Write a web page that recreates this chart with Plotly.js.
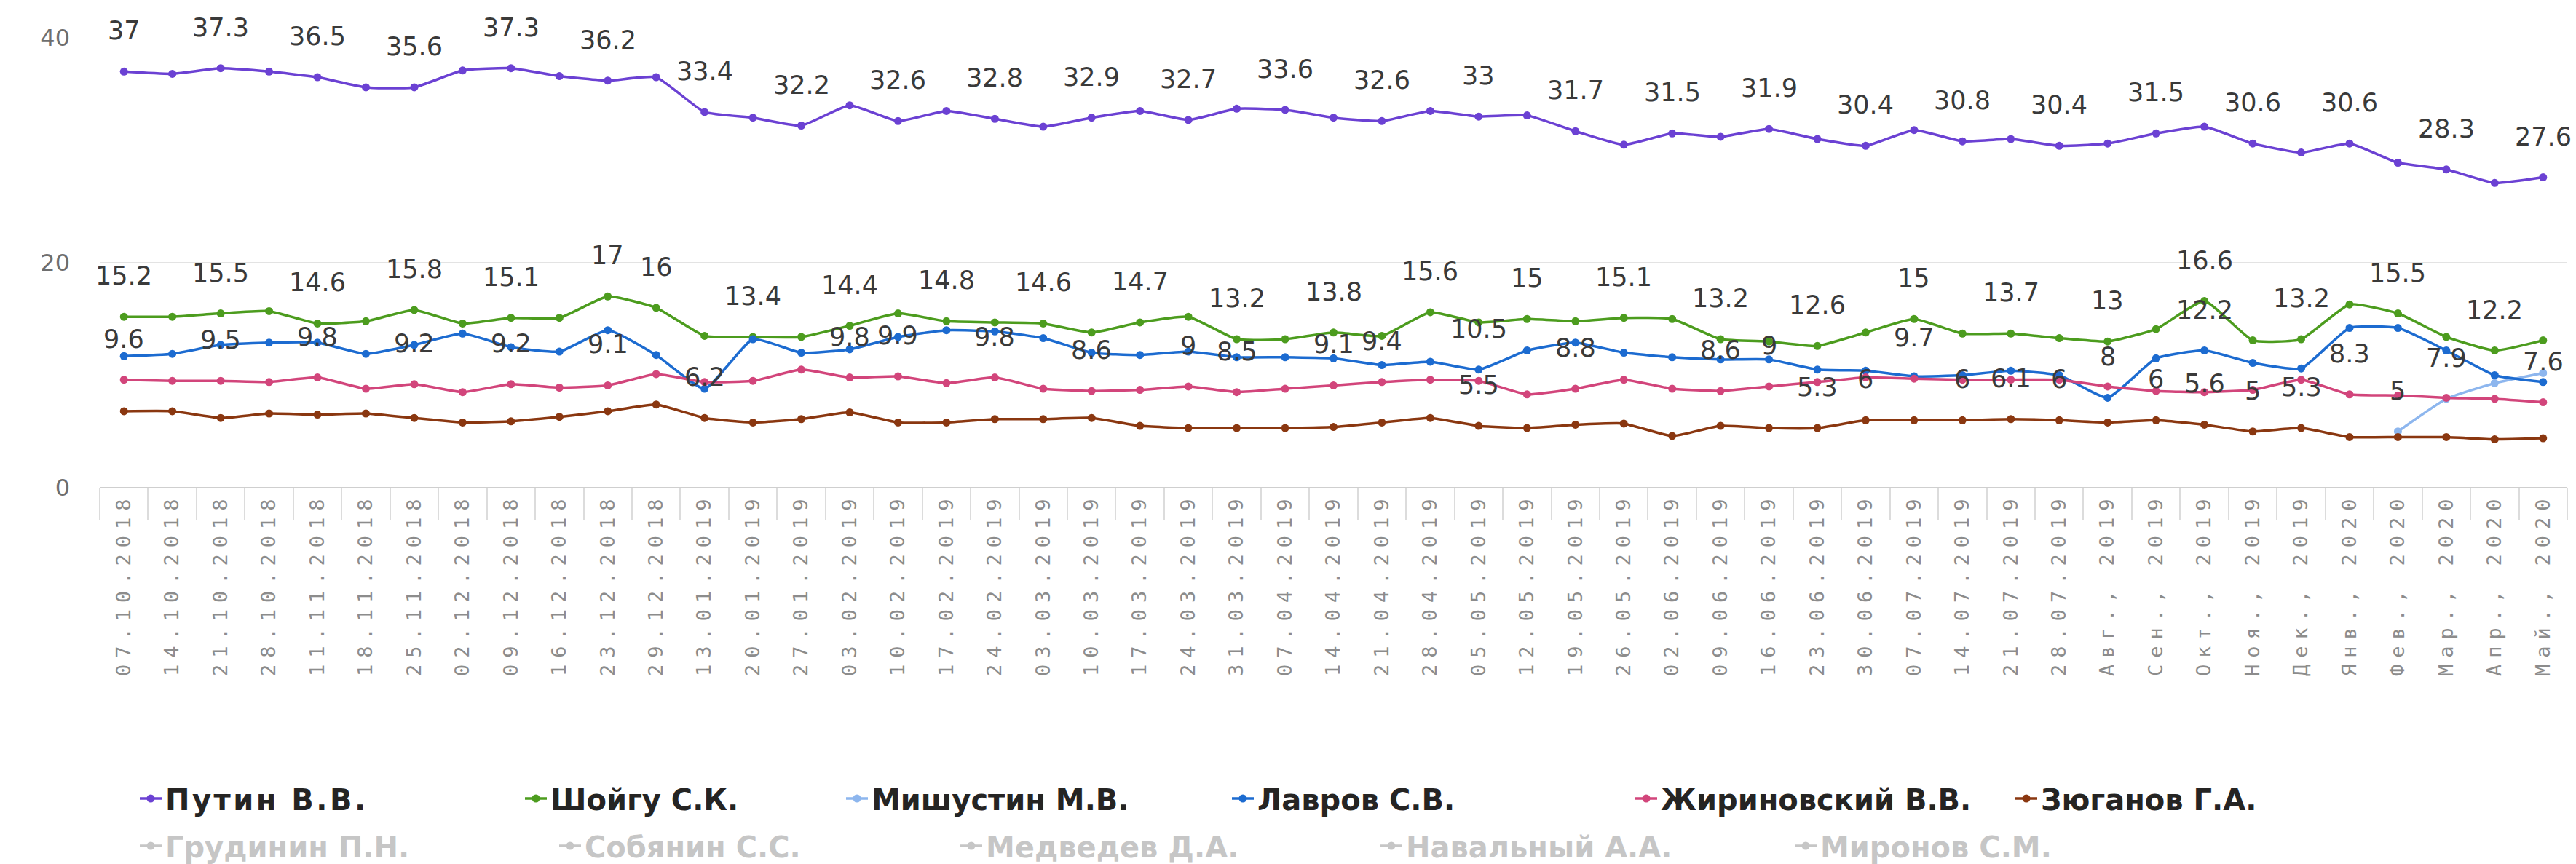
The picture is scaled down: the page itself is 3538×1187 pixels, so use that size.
<!DOCTYPE html>
<html>
<head>
<meta charset="utf-8">
<script src="https://cdn.plot.ly/plotly-3.0.1.min.js"></script>
<style>
html,body{margin:0;padding:0;background:#ffffff;}
#chart{width:3538px;height:1187px;}
.xtick text{letter-spacing:9px;}
.legendtext{letter-spacing:3.5px;}
</style>
</head>
<body>
<div id="chart"></div>
<script>
// ---------- DATA ----------
const categories = ['07.10.2018','14.10.2018','21.10.2018','28.10.2018','11.11.2018','18.11.2018','25.11.2018','02.12.2018','09.12.2018','16.12.2018','23.12.2018','29.12.2018','13.01.2019','20.01.2019','27.01.2019','03.02.2019','10.02.2019','17.02.2019','24.02.2019','03.03.2019','10.03.2019','17.03.2019','24.03.2019','31.03.2019','07.04.2019','14.04.2019','21.04.2019','28.04.2019','05.05.2019','12.05.2019','19.05.2019','26.05.2019','02.06.2019','09.06.2019','16.06.2019','23.06.2019','30.06.2019','07.07.2019','14.07.2019','21.07.2019','28.07.2019','Авг., 2019','Сен., 2019','Окт., 2019','Ноя., 2019','Дек., 2019','Янв., 2020','Фев., 2020','Мар., 2020','Апр., 2020','Май., 2020'];

const putin = [37, 36.8, 37.3, 37.0, 36.5, 35.6, 35.6, 37.1, 37.3, 36.6, 36.2, 36.5, 33.4, 32.9, 32.2, 34.0, 32.6, 33.5, 32.8, 32.1, 32.9, 33.5, 32.7, 33.7, 33.6, 32.9, 32.6, 33.5, 33, 33.1, 31.7, 30.5, 31.5, 31.2, 31.9, 31.0, 30.4, 31.8, 30.8, 31.0, 30.4, 30.6, 31.5, 32.1, 30.6, 29.8, 30.6, 28.9, 28.3, 27.1, 27.6];
const shoigu = [15.2, 15.2, 15.5, 15.7, 14.6, 14.8, 15.8, 14.6, 15.1, 15.1, 17, 16, 13.5, 13.4, 13.4, 14.4, 15.5, 14.8, 14.7, 14.6, 13.8, 14.7, 15.2, 13.2, 13.2, 13.8, 13.5, 15.6, 14.7, 15, 14.8, 15.1, 15.0, 13.2, 13.0, 12.6, 13.8, 15, 13.7, 13.7, 13.3, 13, 14.1, 16.6, 13.1, 13.2, 16.3, 15.5, 13.4, 12.2, 13.1];
const mishustinDates = ['Фев., 2020','Мар., 2020','Апр., 2020','Май., 2020'];
const mishustin = [5, 7.9, 9.3, 10.2];
const lavrov = [11.7, 11.9, 12.7, 12.9, 12.9, 11.9, 12.7, 13.7, 12.5, 12.1, 14.0, 11.8, 8.8, 13.2, 12.0, 12.3, 13.4, 14.0, 13.9, 13.3, 12.0, 11.8, 12.1, 11.6, 11.6, 11.5, 10.9, 11.2, 10.5, 12.2, 12.9, 12.0, 11.6, 11.4, 11.4, 10.5, 10.4, 9.9, 10.0, 10.4, 10.0, 8, 11.5, 12.2, 11.1, 10.6, 14.2, 14.2, 12.2, 10.0, 9.4];
const zhirinovsky = [9.6, 9.5, 9.5, 9.4, 9.8, 8.8, 9.2, 8.5, 9.2, 8.9, 9.1, 10.1, 9.4, 9.5, 10.5, 9.8, 9.9, 9.3, 9.8, 8.8, 8.6, 8.7, 9, 8.5, 8.8, 9.1, 9.4, 9.6, 9.5, 8.3, 8.8, 9.6, 8.8, 8.6, 9, 9.4, 9.8, 9.7, 9.6, 9.6, 9.6, 9.0, 8.6, 8.5, 8.7, 9.6, 8.3, 8.2, 8.0, 7.9, 7.6];
const zyuganov = [6.8, 6.8, 6.2, 6.6, 6.5, 6.6, 6.2, 5.8, 5.9, 6.3, 6.8, 7.4, 6.2, 5.8, 6.1, 6.7, 5.8, 5.8, 6.1, 6.1, 6.2, 5.5, 5.3, 5.3, 5.3, 5.4, 5.8, 6.2, 5.5, 5.3, 5.6, 5.7, 4.6, 5.5, 5.3, 5.3, 6, 6.0, 6, 6.1, 6, 5.8, 6, 5.6, 5, 5.3, 4.5, 4.5, 4.5, 4.3, 4.4];
// hidden (legend-only) series: switched off in the picture, no values shown
const hiddenDates = ['07.10.2018'];
const grudinin = [null];
const sobyanin = [null];
const medvedev = [null];
const navalny = [null];
const mironov = [null];

const seriesNames = ['Путин В.В.','Шойгу С.К.','Мишустин М.В.','Лавров С.В.','Жириновский В.В.','Зюганов Г.А.'];
const hiddenNames = ['Грудинин П.Н.','Собянин С.С.','Медведев Д.А.','Навальный А.А.','Миронов С.М.'];

// which points carry a visible data label (label density as in the picture)
const putinLabelIdx = [0,2,4,6,8,10,12,14,16,18,20,22,24,26,28,30,32,34,36,38,40,42,44,46,48,50];
const shoiguLabelIdx = [0,2,4,6,8,10,11,13,15,17,19,21,23,25,27,29,31,33,35,37,39,41,43,45,47,49];
const zhirLabelIdx = [0,2,4,6,8,10,15,16,18,20,22,23,25,26,30,33,34,37,46,50];
const zyugLabelIdx = [12,28,35,36,38,39,40,42,43,44,45];
const lavrovLabelIdx = [28,41,43];
const mishLabelIdx = [0,1];

// ---------- STYLE ----------
const colors = ['#6B41D3','#4C9C1E','#8DB6EE','#1C6BD0','#D2457B','#8A3710'];
const hiddenColor = '#8E8E8E';

const W = 3538, H = 1187;
const plotL = 137, plotR = 3526, plotT = 52, plotB = 670;
const px2x = X => (X - plotL) / (plotR - plotL);
const px2y = Y => (plotB - Y) / (plotB - plotT);

const legendFont = {family: 'DejaVu Sans', size: 40, weight: 700, color: '#252423'};
const hiddenLegendFont = {family: 'DejaVu Sans', size: 40, weight: 700, color: '#8E8E8E'};
const row1X = [187, 716, 1157, 1687, 2241, 2763];
const row2X = [187, 763, 1314, 1891, 2460];
const row1Y = 1097, row2Y = 1162;

function lineTrace(xs, ys, name, color, legendId) {
  return {
    type: 'scatter', mode: 'lines+markers', x: xs, y: ys, name: name,
    line: {color: color, width: 3.5, shape: 'spline', smoothing: 0.45},
    marker: {color: color, size: 11, symbol: 'circle'},
    cliponaxis: false, legend: legendId, hoverinfo: 'x+y+name'
  };
}

const traces = [
  lineTrace(categories, putin, seriesNames[0], colors[0], 'legend'),
  lineTrace(categories, shoigu, seriesNames[1], colors[1], 'legend2'),
  lineTrace(mishustinDates, mishustin, seriesNames[2], colors[2], 'legend3'),
  lineTrace(categories, lavrov, seriesNames[3], colors[3], 'legend4'),
  lineTrace(categories, zhirinovsky, seriesNames[4], colors[4], 'legend5'),
  lineTrace(categories, zyuganov, seriesNames[5], colors[5], 'legend6')
];
const hiddenData = [grudinin, sobyanin, medvedev, navalny, mironov];
hiddenData.forEach((d, k) => {
  const t = lineTrace(hiddenDates, d, hiddenNames[k], hiddenColor, 'legend' + (7 + k));
  t.visible = 'legendonly';
  traces.push(t);
});

// data labels
const labelFont = {family: 'DejaVu Sans', size: 35, color: '#3A3A3A'};
const annotations = [];
function addLabels(xs, ys, idxList) {
  idxList.forEach(i => {
    annotations.push({
      x: xs[i], y: ys[i], xref: 'x', yref: 'y', text: String(ys[i]),
      showarrow: false, xanchor: 'center', yanchor: 'middle', yshift: 56,
      font: labelFont
    });
  });
}
addLabels(categories, putin, putinLabelIdx);
addLabels(categories, shoigu, shoiguLabelIdx);
addLabels(categories, zhirinovsky, zhirLabelIdx);
addLabels(categories, zyuganov, zyugLabelIdx);
addLabels(categories, lavrov, lavrovLabelIdx);
addLabels(mishustinDates, mishustin, mishLabelIdx);

const layout = {
  width: W, height: H,
  paper_bgcolor: '#ffffff', plot_bgcolor: '#ffffff',
  margin: {l: plotL, r: W - plotR, t: plotT, b: H - plotB, autoexpand: false},
  showlegend: true,
  xaxis: {
    type: 'category', categoryorder: 'array', categoryarray: categories,
    range: [-0.5, categories.length - 0.5],
    showgrid: false, zeroline: false, showline: false,
    ticks: 'outside', tickson: 'boundaries', ticklen: 43, tickwidth: 2, tickcolor: '#DCDCDC',
    tickangle: -90,
    tickfont: {family: 'DejaVu Sans Mono', size: 27, color: '#8C8C8C'},
    automargin: false, fixedrange: true
  },
  yaxis: {
    range: [0, 40], tickvals: [0, 20, 40], ticktext: ['0', '20', '40'],
    showgrid: true, gridcolor: '#E3E3E3', gridwidth: 2,
    zeroline: true, zerolinecolor: '#CFCFCF', zerolinewidth: 2,
    showline: false, ticks: '',
    tickfont: {family: 'DejaVu Sans', size: 32, color: '#6E6E6E'},
    ticklabelstandoff: 40,
    automargin: false, fixedrange: true
  },
  annotations: annotations
};

const allLegendX = row1X.concat(row2X);
allLegendX.forEach((X, k) => {
  const key = k === 0 ? 'legend' : 'legend' + (k + 1);
  const hidden = k >= row1X.length;
  layout[key] = {
    x: px2x(X), xanchor: 'left', xref: 'paper',
    y: px2y(hidden ? row2Y : row1Y), yanchor: 'middle', yref: 'paper',
    orientation: 'h', bgcolor: 'rgba(0,0,0,0)', borderwidth: 0,
    font: hidden ? hiddenLegendFont : legendFont,
    itemclick: false, itemdoubleclick: false, itemwidth: 30
  };
});

Plotly.newPlot('chart', traces, layout, {displayModeBar: false, staticPlot: true});
</script>
</body>
</html>
